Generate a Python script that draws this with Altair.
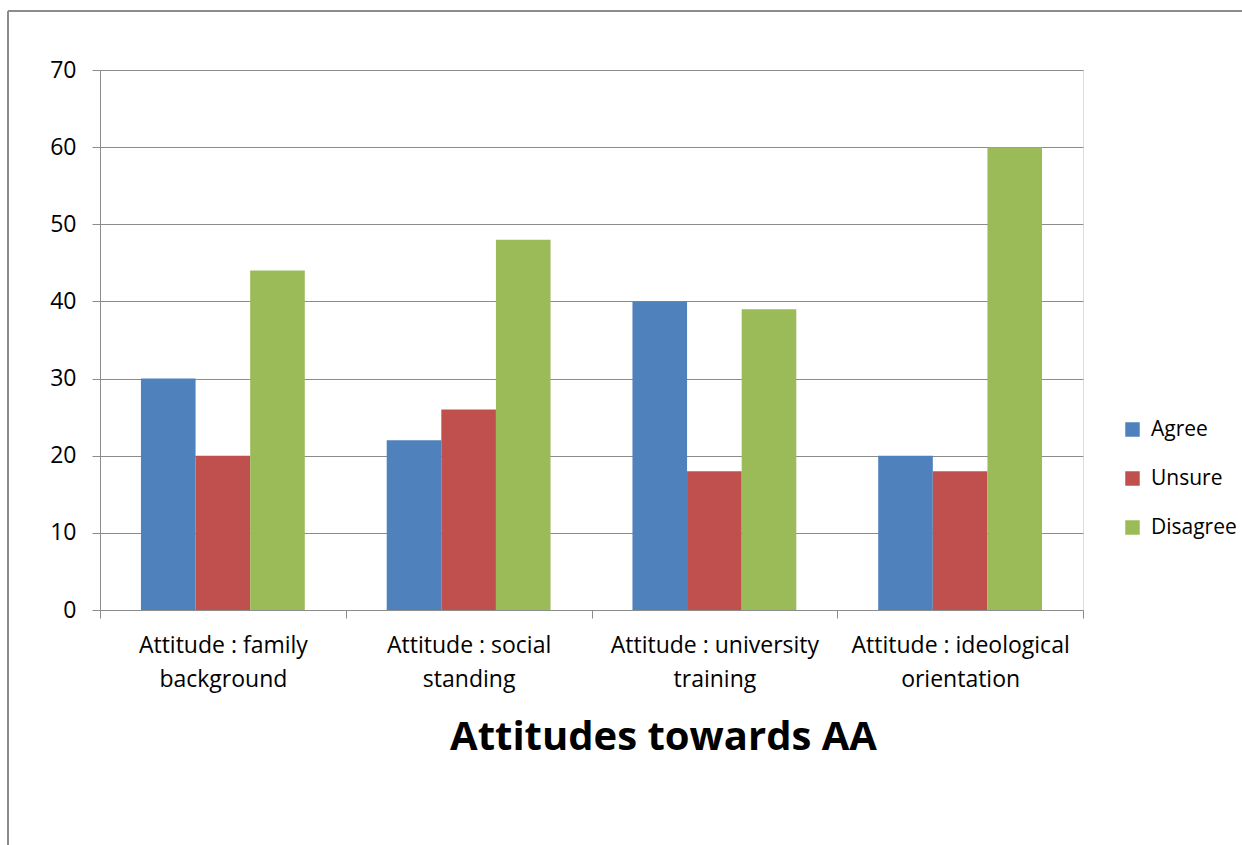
import altair as alt
import pandas as pd

categories = ["Attitude : family background", "Attitude : social standing",
              "Attitude : university training", "Attitude : ideological orientation"]
series = ["Agree", "Unsure", "Disagree"]
agree = [30, 22, 40, 20]
unsure = [20, 26, 18, 18]
disagree = [44, 48, 39, 60]
colors = ["#4F81BD", "#C0504D", "#9BBB59"]
y_ticks = [0, 10, 20, 30, 40, 50, 60, 70]

rows = []
for i, c in enumerate(categories):
    for s, vals in zip(series, [agree, unsure, disagree]):
        rows.append({"category": c, "series": s, "value": vals[i]})
df = pd.DataFrame(rows)

FONT = "Open Sans"

bars = alt.Chart(df).mark_bar().encode(
    x=alt.X("category:N", sort=categories,
            scale=alt.Scale(paddingInner=0, paddingOuter=0),
            axis=alt.Axis(title="Attitudes towards AA", labelAngle=0,
                          labelExpr="[slice(datum.label, 0, lastindexof(datum.label, ' ')), slice(datum.label, lastindexof(datum.label, ' ') + 1)]",
                          tickBand="extent", tickSize=8, tickColor="#8c8c8c",
                          domainColor="#8c8c8c", labelFontSize=23, labelFont=FONT,
                          labelColor="#000", labelPadding=16, labelLineHeight=34,
                          labelLimit=500,
                          titleFontSize=40, titleFont=FONT, titleFontWeight="bold",
                          titleColor="#000", titleX=563, titleY=127,
                          titleAlign="center", titleBaseline="middle", grid=False)),
    xOffset=alt.XOffset("series:N", sort=series,
                        scale=alt.Scale(paddingInner=0, paddingOuter=0.75)),
    y=alt.Y("value:Q", scale=alt.Scale(domain=[0, 70], nice=False),
            axis=alt.Axis(title=None, values=y_ticks, tickSize=8, tickColor="#8c8c8c",
                          domainColor="#8c8c8c", gridColor="#8c8c8c", grid=True,
                          labelFontSize=23, labelFont=FONT, labelColor="#000",
                          labelPadding=16)),
    color=alt.Color("series:N", sort=series,
                    scale=alt.Scale(domain=series, range=colors),
                    legend=alt.Legend(title=None, orient="none", legendX=1022, legendY=349,
                                      symbolType="square", symbolSize=210,
                                      symbolStrokeWidth=0, labelFontSize=21,
                                      labelFont=FONT, labelColor="#000",
                                      rowPadding=27, labelOffset=8)),
)

border_left = alt.Chart(df).mark_rule(color="#8c8c8c", strokeWidth=2).encode(
    x=alt.value(-92), y=alt.value(-59), y2=alt.value(790))
border_top = alt.Chart(df).mark_rule(color="#8c8c8c", strokeWidth=2).encode(
    x=alt.value(-92), x2=alt.value(1160), y=alt.value(-59))

chart = alt.layer(bars, border_left, border_top).properties(
    width=983, height=540,
    autosize=alt.AutoSizeParams(type="none"),
    padding={"left": 100, "top": 70, "right": 159, "bottom": 235},
).configure_view(stroke=None).configure(background="white")

chart.save("out.html", embed_options={"renderer": "svg", "actions": False})
